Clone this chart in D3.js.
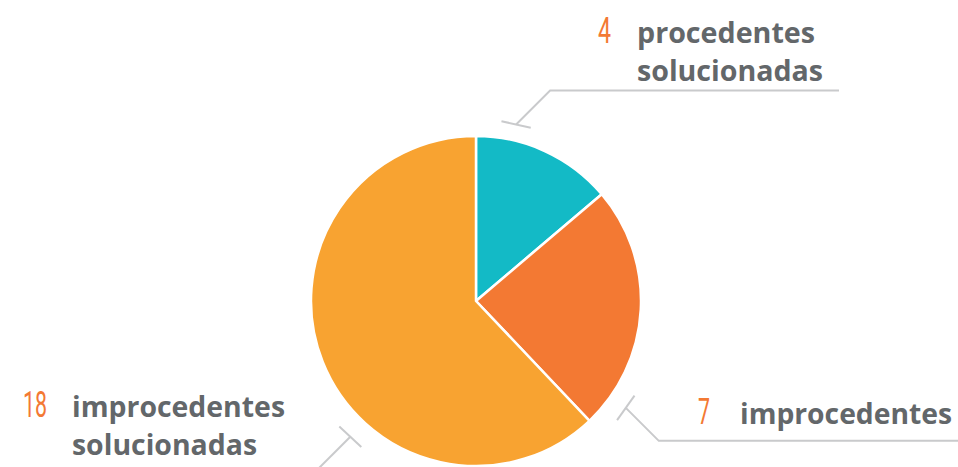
<!DOCTYPE html>
<html>
<head>
<meta charset="utf-8">
<script src="https://cdn.jsdelivr.net/npm/d3@7"></script>
<style>
  html, body { margin: 0; padding: 0; background: #ffffff; }
  svg { display: block; }
</style>
</head>
<body>
<svg id="chart" width="958" height="467"></svg>
<script>
// ---- data ----
const categories = ["procedentes solucionadas", "improcedentes", "improcedentes solucionadas"];
const values = [4, 7, 18];
const labelLines = [["procedentes", "solucionadas"], ["improcedentes"], ["improcedentes", "solucionadas"]];
const colors = ["#13bac6", "#f37933", "#f8a331"];

// ---- layout ----
const W = 958, H = 467;
const cx = 476, cy = 301, R = 165;
const svg = d3.select("#chart");

const pie = d3.pie().sort(null).value(d => d.value);
const arcs = pie(values.map((v, i) => ({ value: v, name: categories[i], i })));
const arc = d3.arc().innerRadius(0).outerRadius(R);

const g = svg.append("g").attr("transform", `translate(${cx},${cy})`);
g.selectAll("path.slice")
  .data(arcs)
  .enter().append("path")
  .attr("class", "slice")
  .attr("d", arc)
  .attr("fill", d => colors[d.data.i])
  .attr("stroke", "#ffffff")
  .attr("stroke-width", 2.5)
  .attr("stroke-linejoin", "round");

// callout configuration (layout, per slice)
const callouts = [
  { ang: 12.8, rad: 181, dir: [1, -1], diag: 34, hEnd: 839 - cx,
    numX: 611, numW: 13, textX: 637, base: 43, lens: [178, 186] },
  { ang: 125.5, rad: 184, dir: [1, 1], diag: 33, hEnd: W - cx,
    numX: 710, numW: 12, textX: 740, base: 424, lens: [212] },
  { ang: 222.8, rad: 185, dir: [-1, 1], diag: 60, hEnd: null,
    numX: 47, numW: 24, textX: 72, base: 417, lens: [213, 185] }
];
const lineColor = "#c9cacc";
const lg = svg.append("g");

arcs.forEach((a, k) => {
  const c = callouts[k];
  const t = c.ang * Math.PI / 180;
  const px = cx + c.rad * Math.sin(t), py = cy - c.rad * Math.cos(t);
  const tx = Math.cos(t), ty = Math.sin(t); // tangent
  const half = 15;
  lg.append("line")
    .attr("x1", px - tx * half).attr("y1", py - ty * half)
    .attr("x2", px + tx * half).attr("y2", py + ty * half)
    .attr("stroke", lineColor).attr("stroke-width", 2);
  const ex = px + c.dir[0] * c.diag, ey = py + c.dir[1] * c.diag;
  const pts = [[px, py], [ex, ey]];
  if (c.hEnd !== null) pts.push([cx + c.hEnd, ey]);
  lg.append("path")
    .attr("d", d3.line()(pts))
    .attr("fill", "none")
    .attr("stroke", lineColor).attr("stroke-width", 2);

  // number
  svg.append("text")
    .attr("x", c.numX - c.numW).attr("y", c.base)
    .attr("font-family", "Roboto, 'Open Sans', sans-serif")
    .attr("font-weight", 400)
    .attr("font-size", 36)
    .attr("fill", "#f37933")
    .attr("textLength", c.numW)
    .attr("lengthAdjust", "spacingAndGlyphs")
    .text(values[a.data.i]);

  // words
  labelLines[a.data.i].forEach((ln, j) => {
    svg.append("text")
      .attr("x", c.textX).attr("y", c.base + j * 38)
      .attr("font-family", "'Open Sans', sans-serif")
      .attr("font-weight", 700)
      .attr("font-size", 28)
      .attr("fill", "#63676a")
      .attr("textLength", c.lens[j])
      .attr("lengthAdjust", "spacingAndGlyphs")
      .text(ln);
  });
});
</script>
</body>
</html>
